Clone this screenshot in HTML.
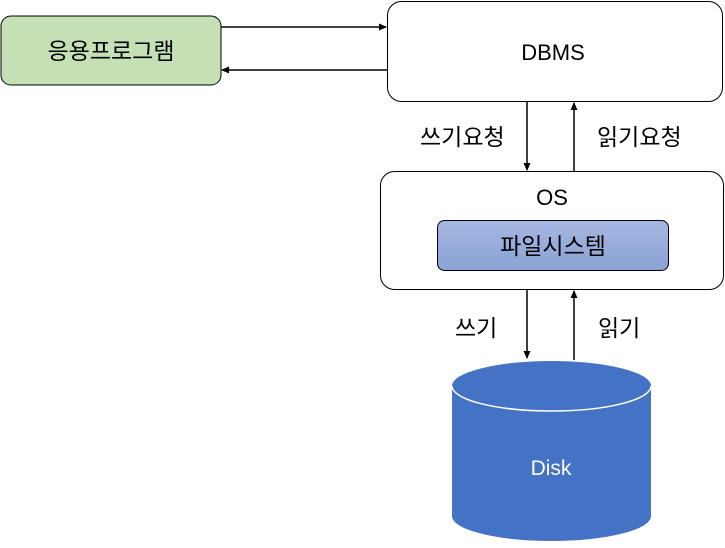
<!DOCTYPE html>
<html><head><meta charset="utf-8"><style>
body{margin:0;background:#fff;width:725px;height:543px;overflow:hidden}
</style></head><body>
<svg width="725" height="543" xmlns="http://www.w3.org/2000/svg" font-family="'Liberation Sans','Noto Sans CJK KR',sans-serif">
<defs>
<marker id="a" markerWidth="8" markerHeight="8" refX="7" refY="4" orient="auto" markerUnits="userSpaceOnUse"><path d="M0,0.5 L8,4 L0,7.5z" fill="#000"/></marker>
<linearGradient id="g" x1="0" y1="0" x2="0" y2="1"><stop offset="0" stop-color="#a7b7e0"/><stop offset="1" stop-color="#8aa2d6"/></linearGradient>
</defs>
<rect x="1" y="16" width="220" height="69" rx="10" fill="#c5e0b4" stroke="#000" stroke-width="1"/>
<text x="111" y="59" font-size="23" text-anchor="middle">응용프로그램</text>
<rect x="387.5" y="1.5" width="335" height="100" rx="14" fill="#fff" stroke="#000"/>
<text x="553" y="60" font-size="22" text-anchor="middle">DBMS</text>
<line x1="221" y1="27" x2="386" y2="27" stroke="#000" stroke-width="1.5" marker-end="url(#a)"/>
<line x1="387" y1="70" x2="222" y2="70" stroke="#000" stroke-width="1.5" marker-end="url(#a)"/>
<line x1="527" y1="102" x2="527" y2="170" stroke="#000" stroke-width="1.5" marker-end="url(#a)"/>
<line x1="574" y1="171" x2="574" y2="103" stroke="#000" stroke-width="1.5" marker-end="url(#a)"/>
<text x="420" y="145" font-size="23">쓰기요청</text>
<text x="597" y="145" font-size="23">읽기요청</text>
<rect x="380.5" y="171.5" width="343" height="118" rx="14" fill="#fff" stroke="#000"/>
<text x="552" y="205" font-size="22" text-anchor="middle">OS</text>
<rect x="437.5" y="220.5" width="231" height="50" rx="7" fill="url(#g)" stroke="#000"/>
<text x="553" y="254" font-size="23" text-anchor="middle">파일시스템</text>
<line x1="527" y1="290" x2="527" y2="358" stroke="#000" stroke-width="1.5" marker-end="url(#a)"/>
<line x1="574" y1="360" x2="574" y2="291" stroke="#000" stroke-width="1.5" marker-end="url(#a)"/>
<text x="455" y="336" font-size="23">쓰기</text>
<text x="598" y="336" font-size="23">읽기</text>
<path d="M452,386 L452,516 A99.5,25 0 0 0 651,516 L651,386 A99.5,25 0 0 0 452,386z" fill="#4472c4"/>
<path d="M452,386 A99.5,25 0 0 0 651,386" fill="none" stroke="#fff" stroke-width="1.5"/>
<text x="551" y="475" font-size="21" text-anchor="middle" fill="#fff">Disk</text>
</svg>
</body></html>
